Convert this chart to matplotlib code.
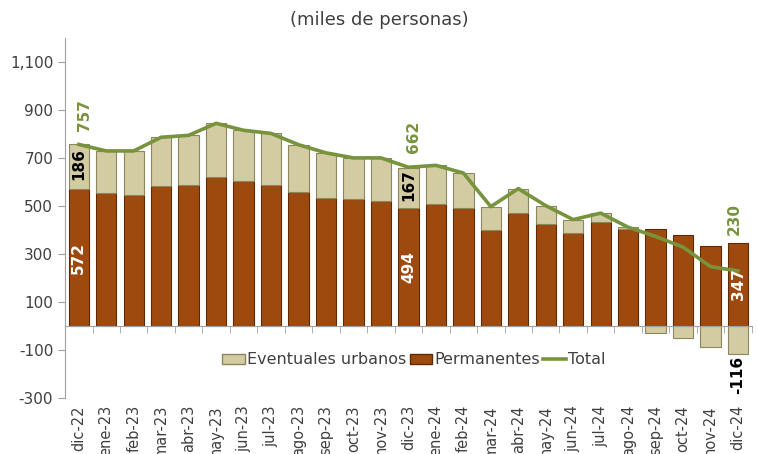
import matplotlib.pyplot as plt
import matplotlib.ticker as mticker
from matplotlib.patches import Patch
from matplotlib.lines import Line2D
import numpy as np

months = ["dic-22", "ene-23", "feb-23", "mar-23", "abr-23", "may-23", "jun-23",
          "jul-23", "ago-23", "sep-23", "oct-23", "nov-23", "dic-23", "ene-24",
          "feb-24", "mar-24", "abr-24", "may-24", "jun-24", "jul-24", "ago-24",
          "sep-24", "oct-24", "nov-24", "dic-24"]
permanentes = [572, 553, 547, 584, 587, 622, 604, 587, 561, 533, 529, 520, 494,
               508, 492, 401, 472, 427, 388, 436, 406, 404, 380, 334, 347]
eventuales = [186, 177, 183, 203, 208, 223, 212, 216, 195, 189, 172, 181, 167,
              162, 146, 97, 101, 75, 56, 35, 6, -30, -51, -86, -116]
total = [757, 730, 730, 787, 795, 845, 816, 803, 756, 722, 701, 701, 662, 670,
         638, 498, 573, 502, 444, 471, 412, 374, 329, 248, 230]

BROWN = "#9E4A0E"
BEIGE = "#D3CCA2"
GREEN = "#77933C"
GRAY = "#404040"

x = np.arange(len(months))
perm = np.array(permanentes)
ev = np.array(eventuales)
ev_bottom = np.where(ev >= 0, perm, 0)

fig = plt.figure(figsize=(7.58, 4.54), dpi=100)
ax = fig.add_axes([0.0858, 0.123, 0.906, 0.793])

bars_perm = ax.bar(x, perm, width=0.74, color=BROWN, edgecolor="#5E2A06",
                   linewidth=0.8, zorder=2)
bars_ev = ax.bar(x, ev, bottom=ev_bottom, width=0.74, color=BEIGE,
                 edgecolor="#8C865F", linewidth=0.8, zorder=2)
ax.plot(x, total, color=GREEN, linewidth=2.6, zorder=3)

ax.set_xlim(-0.5, len(months) - 0.5)
ax.set_ylim(-300, 1200)
ax.set_yticks(np.arange(-300, 1101, 200))
ax.yaxis.set_major_formatter(mticker.FuncFormatter(lambda v, p: f"{int(v):,}"))
ax.tick_params(axis="y", labelsize=11, colors=GRAY, length=5, color="#A0A0A0")

for s in ["top", "right"]:
    ax.spines[s].set_visible(False)
ax.spines["left"].set_color("#A0A0A0")
ax.spines["bottom"].set_color("#A0A0A0")
ax.spines["bottom"].set_position(("data", 0))

# axis line at zero with ticks between categories
ax.set_xticks(x)
ax.set_xticklabels([])
ax.tick_params(axis="x", which="major", length=0)
ax.set_xticks(np.arange(-0.5, len(months), 1.0), minor=True)
ax.tick_params(axis="x", which="minor", length=5, color="#A0A0A0", direction="out")

# category labels at the bottom of the plot
sec = ax.secondary_xaxis("bottom")
sec.set_xticks(x)
sec.set_xticklabels(months, rotation=90, fontsize=10.5, color=GRAY, va="top")
sec.tick_params(length=0, pad=5)
sec.spines["bottom"].set_visible(False)

# data labels
i0, i1, i2 = 0, 12, 24
for i in [i0, i1]:
    ax.text(x[i], perm[i] / 2, f"{perm[i]}", rotation=90, ha="center", va="center",
            color="white", fontsize=11, fontweight="bold", zorder=4)
    ax.text(x[i], perm[i] + ev[i] / 2 + 10, f"{ev[i]}", rotation=90, ha="center",
            va="center", color="black", fontsize=11, fontweight="bold", zorder=4)
    ax.annotate(f"{total[i]}", (x[i], total[i]), xytext=(4, 10),
                textcoords="offset points", rotation=90, ha="center", va="bottom",
                color=GREEN, fontsize=11, fontweight="bold", zorder=4)
ax.text(x[i2], perm[i2] / 2, f"{perm[i2]}", rotation=90, ha="center", va="center",
        color="white", fontsize=11, fontweight="bold", zorder=4)
ax.text(x[i2], ev[i2] - 8, f"{ev[i2]}", rotation=90, ha="center", va="top",
        color="black", fontsize=11, fontweight="bold", zorder=4)
ax.annotate(f"{total[i2]}", (x[i2], perm[i2]), xytext=(-3, 6),
            textcoords="offset points", rotation=90, ha="center", va="bottom",
            color=GREEN, fontsize=11, fontweight="bold", zorder=4)

handles = [Patch(facecolor=BEIGE, edgecolor="#8C865F"),
           Patch(facecolor=BROWN, edgecolor="#5E2A06"),
           Line2D([0], [0], color=GREEN, linewidth=2.6)]
leg = ax.legend(handles, ["Eventuales urbanos", "Permanentes", "Total"],
                loc="center", bbox_to_anchor=(0.508, 0.106), ncol=3, frameon=False,
                fontsize=11.5, handlelength=1.4, handletextpad=0.15,
                columnspacing=0.2, handleheight=0.6)
for t in leg.get_texts():
    t.set_color(GRAY)

fig.suptitle("(miles de personas)", x=0.5, y=0.975, fontsize=13, color=GRAY)

fig.savefig("out.png", dpi=100)
plt.close(fig)
